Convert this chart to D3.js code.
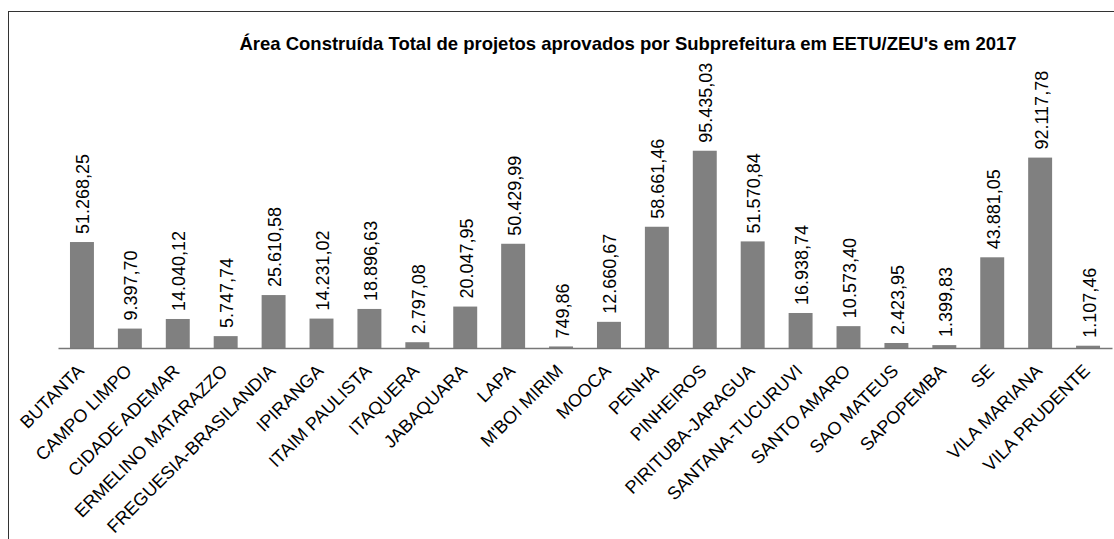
<!DOCTYPE html>
<html><head><meta charset="utf-8">
<script src="https://cdn.jsdelivr.net/npm/d3@7"></script>
<style>html,body{margin:0;padding:0;background:#fff}svg{display:block}text{font-family:"Liberation Sans",Arial,sans-serif}</style>
</head><body>
<svg id="c" width="1114" height="539"></svg>
<script>
const categories = ["BUTANTA","CAMPO LIMPO","CIDADE ADEMAR","ERMELINO MATARAZZO","FREGUESIA-BRASILANDIA","IPIRANGA","ITAIM PAULISTA","ITAQUERA","JABAQUARA","LAPA","M'BOI MIRIM","MOOCA","PENHA","PINHEIROS","PIRITUBA-JARAGUA","SANTANA-TUCURUVI","SANTO AMARO","SAO MATEUS","SAPOPEMBA","SE","VILA MARIANA","VILA PRUDENTE"];
const values = [51268.25,9397.70,14040.12,5747.74,25610.58,14231.02,18896.63,2797.08,20047.95,50429.99,749.86,12660.67,58661.46,95435.03,51570.84,16938.74,10573.40,2423.95,1399.83,43881.05,92117.78,1107.46];
const title = "Área Construída Total de projetos aprovados por Subprefeitura em EETU/ZEU's em 2017";

const svg = d3.select("#c");
const loc = d3.formatLocale({decimal:",",thousands:".",grouping:[3],currency:["R$",""]});
const fmt = loc.format(",.2f");

const x = d3.scaleBand().domain(categories).range([58,1112]).paddingInner(0.5).paddingOuter(0.25);
const y = d3.scaleLinear().domain([0,100000]).range([348,141.3]);

// frame lines
svg.append("line").attr("x1",8.5).attr("x2",8.5).attr("y1",11).attr("y2",539).attr("stroke","#333").attr("stroke-width",1);
svg.append("line").attr("x1",8).attr("x2",1114).attr("y1",11.5).attr("y2",11.5).attr("stroke","#333").attr("stroke-width",1);

svg.append("text").attr("x",628).attr("y",50).attr("text-anchor","middle")
  .attr("font-size",18.5).attr("font-weight","bold").attr("fill","#000").text(title);

svg.selectAll("rect.bar").data(values).join("rect").attr("class","bar")
  .attr("x",(d,i)=>x(categories[i])).attr("width",x.bandwidth())
  .attr("y",d=>y(d)).attr("height",d=>y(0)-y(d)).attr("fill","#808080");

const axis = d3.axisBottom(x).tickSize(0).tickPadding(0);
const g = svg.append("g").attr("transform",`translate(0,${y(0)})`).call(axis);
g.select(".domain").attr("stroke","#777").attr("stroke-width",1.5);
g.selectAll(".tick text").attr("font-size",18).attr("fill","#000")
  .attr("text-anchor","end").attr("dy",null).attr("y",null)
  .attr("transform","translate(3,24) rotate(-45)");

svg.selectAll("text.val").data(values).join("text").attr("class","val")
  .attr("font-size",18).attr("fill","#000").attr("dy","0.36em")
  .attr("transform",(d,i)=>`translate(${x(categories[i])+x.bandwidth()/2+1},${y(d)-8}) rotate(-90)`)
  .text(d=>fmt(d));
</script>
</body></html>
